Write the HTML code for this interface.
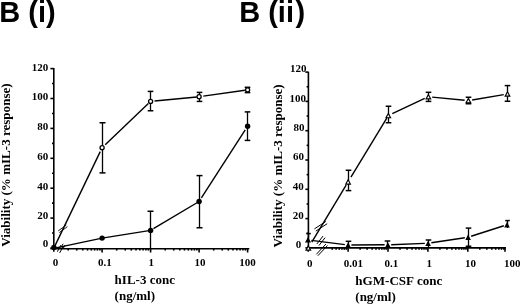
<!DOCTYPE html>
<html><head><meta charset="utf-8"><style>
html,body{margin:0;padding:0;background:#fff;}
svg{display:block;will-change:transform;}
</style></head><body>
<svg width="520" height="304" viewBox="0 0 520 304">
<text x="-0.75" y="21.50" font-size="29" text-anchor="start" font-family="Liberation Sans" font-weight="bold" >B (i)</text>
<text x="239.20" y="21.50" font-size="29" text-anchor="start" font-family="Liberation Sans" font-weight="bold" >B (ii<tspan dx="1.4">)</tspan></text>
<g stroke="#000" stroke-linecap="butt">
<line x1="53.60" y1="248.60" x2="100.24" y2="151.58" stroke-width="1.4"/>
<line x1="105.21" y1="144.73" x2="148.36" y2="103.54" stroke-width="1.4"/>
<line x1="154.58" y1="101.02" x2="196.81" y2="96.97" stroke-width="1.4"/>
<line x1="203.26" y1="96.16" x2="244.93" y2="90.28" stroke-width="1.4"/>
<line x1="53.60" y1="248.40" x2="102.10" y2="238.10" stroke-width="1.4"/>
<line x1="102.10" y1="238.10" x2="150.60" y2="230.40" stroke-width="1.4"/>
<line x1="153.43" y1="228.71" x2="199.10" y2="201.50" stroke-width="1.4"/>
<line x1="201.38" y1="197.97" x2="245.22" y2="129.95" stroke-width="1.4"/>
</g>
<g stroke="#000" stroke-linecap="butt">
<line x1="53.80" y1="67.90" x2="53.80" y2="251.70" stroke-width="1.6"/>
<line x1="50.40" y1="248.00" x2="53.80" y2="248.00" stroke-width="1.6"/>
<line x1="50.40" y1="218.10" x2="53.80" y2="218.10" stroke-width="1.6"/>
<line x1="50.40" y1="188.20" x2="53.80" y2="188.20" stroke-width="1.6"/>
<line x1="50.40" y1="158.30" x2="53.80" y2="158.30" stroke-width="1.6"/>
<line x1="50.40" y1="128.40" x2="53.80" y2="128.40" stroke-width="1.6"/>
<line x1="50.40" y1="98.50" x2="53.80" y2="98.50" stroke-width="1.6"/>
<line x1="50.40" y1="68.60" x2="53.80" y2="68.60" stroke-width="1.6"/>
<line x1="52.00" y1="233.05" x2="53.80" y2="233.05" stroke-width="1.6"/>
<line x1="52.00" y1="203.15" x2="53.80" y2="203.15" stroke-width="1.6"/>
<line x1="52.00" y1="173.25" x2="53.80" y2="173.25" stroke-width="1.6"/>
<line x1="52.00" y1="143.35" x2="53.80" y2="143.35" stroke-width="1.6"/>
<line x1="52.00" y1="113.45" x2="53.80" y2="113.45" stroke-width="1.6"/>
<line x1="52.00" y1="83.55" x2="53.80" y2="83.55" stroke-width="1.6"/>
<line x1="50.50" y1="248.70" x2="249.30" y2="248.70" stroke-width="1.6"/>
<line x1="102.10" y1="248.70" x2="102.10" y2="252.50" stroke-width="1.6"/>
<line x1="150.60" y1="248.70" x2="150.60" y2="252.50" stroke-width="1.6"/>
<line x1="199.10" y1="248.70" x2="199.10" y2="252.50" stroke-width="1.6"/>
<line x1="247.60" y1="248.70" x2="247.60" y2="252.50" stroke-width="1.6"/>
<line x1="68.20" y1="248.70" x2="68.20" y2="250.60" stroke-width="1.6"/>
<line x1="76.74" y1="248.70" x2="76.74" y2="250.60" stroke-width="1.6"/>
<line x1="82.80" y1="248.70" x2="82.80" y2="250.60" stroke-width="1.6"/>
<line x1="87.50" y1="248.70" x2="87.50" y2="250.60" stroke-width="1.6"/>
<line x1="91.34" y1="248.70" x2="91.34" y2="250.60" stroke-width="1.6"/>
<line x1="94.59" y1="248.70" x2="94.59" y2="250.60" stroke-width="1.6"/>
<line x1="97.40" y1="248.70" x2="97.40" y2="250.60" stroke-width="1.6"/>
<line x1="99.88" y1="248.70" x2="99.88" y2="250.60" stroke-width="1.6"/>
<line x1="116.70" y1="248.70" x2="116.70" y2="250.60" stroke-width="1.6"/>
<line x1="125.24" y1="248.70" x2="125.24" y2="250.60" stroke-width="1.6"/>
<line x1="131.30" y1="248.70" x2="131.30" y2="250.60" stroke-width="1.6"/>
<line x1="136.00" y1="248.70" x2="136.00" y2="250.60" stroke-width="1.6"/>
<line x1="139.84" y1="248.70" x2="139.84" y2="250.60" stroke-width="1.6"/>
<line x1="143.09" y1="248.70" x2="143.09" y2="250.60" stroke-width="1.6"/>
<line x1="145.90" y1="248.70" x2="145.90" y2="250.60" stroke-width="1.6"/>
<line x1="148.38" y1="248.70" x2="148.38" y2="250.60" stroke-width="1.6"/>
<line x1="165.20" y1="248.70" x2="165.20" y2="250.60" stroke-width="1.6"/>
<line x1="173.74" y1="248.70" x2="173.74" y2="250.60" stroke-width="1.6"/>
<line x1="179.80" y1="248.70" x2="179.80" y2="250.60" stroke-width="1.6"/>
<line x1="184.50" y1="248.70" x2="184.50" y2="250.60" stroke-width="1.6"/>
<line x1="188.34" y1="248.70" x2="188.34" y2="250.60" stroke-width="1.6"/>
<line x1="191.59" y1="248.70" x2="191.59" y2="250.60" stroke-width="1.6"/>
<line x1="194.40" y1="248.70" x2="194.40" y2="250.60" stroke-width="1.6"/>
<line x1="196.88" y1="248.70" x2="196.88" y2="250.60" stroke-width="1.6"/>
<line x1="213.70" y1="248.70" x2="213.70" y2="250.60" stroke-width="1.6"/>
<line x1="222.24" y1="248.70" x2="222.24" y2="250.60" stroke-width="1.6"/>
<line x1="228.30" y1="248.70" x2="228.30" y2="250.60" stroke-width="1.6"/>
<line x1="233.00" y1="248.70" x2="233.00" y2="250.60" stroke-width="1.6"/>
<line x1="236.84" y1="248.70" x2="236.84" y2="250.60" stroke-width="1.6"/>
<line x1="240.09" y1="248.70" x2="240.09" y2="250.60" stroke-width="1.6"/>
<line x1="242.90" y1="248.70" x2="242.90" y2="250.60" stroke-width="1.6"/>
<line x1="245.38" y1="248.70" x2="245.38" y2="250.60" stroke-width="1.6"/>
<line x1="102.50" y1="122.75" x2="102.50" y2="172.90" stroke-width="1.3"/>
<line x1="99.50" y1="122.75" x2="105.50" y2="122.75" stroke-width="1.5"/>
<line x1="99.50" y1="172.90" x2="105.50" y2="172.90" stroke-width="1.5"/>
<line x1="150.50" y1="91.40" x2="150.50" y2="110.75" stroke-width="1.3"/>
<line x1="147.70" y1="91.40" x2="153.30" y2="91.40" stroke-width="1.5"/>
<line x1="147.70" y1="110.75" x2="153.30" y2="110.75" stroke-width="1.5"/>
<line x1="199.50" y1="92.40" x2="199.50" y2="101.40" stroke-width="1.3"/>
<line x1="196.70" y1="92.40" x2="202.30" y2="92.40" stroke-width="1.5"/>
<line x1="196.70" y1="101.40" x2="202.30" y2="101.40" stroke-width="1.5"/>
<line x1="247.50" y1="87.30" x2="247.50" y2="92.60" stroke-width="1.3"/>
<line x1="244.70" y1="87.30" x2="250.30" y2="87.30" stroke-width="1.5"/>
<line x1="244.70" y1="92.60" x2="250.30" y2="92.60" stroke-width="1.5"/>
<line x1="150.50" y1="211.25" x2="150.50" y2="248.70" stroke-width="1.3"/>
<line x1="147.50" y1="211.25" x2="153.50" y2="211.25" stroke-width="1.5"/>
<line x1="199.50" y1="175.60" x2="199.50" y2="227.75" stroke-width="1.3"/>
<line x1="196.50" y1="175.60" x2="202.50" y2="175.60" stroke-width="1.5"/>
<line x1="196.50" y1="227.75" x2="202.50" y2="227.75" stroke-width="1.5"/>
<line x1="247.50" y1="111.90" x2="247.50" y2="140.40" stroke-width="1.3"/>
<line x1="244.70" y1="111.90" x2="250.30" y2="111.90" stroke-width="1.5"/>
<line x1="244.70" y1="140.40" x2="250.30" y2="140.40" stroke-width="1.5"/>
</g>
<circle cx="102.10" cy="147.70" r="2.0500000000000003" fill="#fff" stroke="#000" stroke-width="1.3"/>
<circle cx="150.60" cy="101.40" r="2.0500000000000003" fill="#fff" stroke="#000" stroke-width="1.3"/>
<circle cx="199.10" cy="96.75" r="2.0500000000000003" fill="#fff" stroke="#000" stroke-width="1.3"/>
<circle cx="247.60" cy="89.90" r="2.0500000000000003" fill="#fff" stroke="#000" stroke-width="1.3"/>
<circle cx="102.10" cy="238.10" r="2.7" fill="#000" stroke="none"/>
<circle cx="150.60" cy="230.40" r="2.7" fill="#000" stroke="none"/>
<circle cx="199.10" cy="201.50" r="2.7" fill="#000" stroke="none"/>
<circle cx="247.60" cy="126.25" r="2.7" fill="#000" stroke="none"/>
<circle cx="53.90" cy="247.40" r="2.7" fill="#000" stroke="none"/>
<g stroke="#000">
<line x1="57.39" y1="251.70" x2="60.91" y2="245.08" stroke-width="1.0"/>
<line x1="59.69" y1="252.92" x2="63.21" y2="246.30" stroke-width="1.0"/>
<line x1="58.17" y1="230.93" x2="66.26" y2="225.05" stroke-width="0.9"/>
<line x1="59.34" y1="232.55" x2="67.43" y2="226.67" stroke-width="0.9"/>
<line x1="60.84" y1="247.65" x2="63.09" y2="243.75" stroke-width="1.0"/>
<line x1="62.91" y1="248.85" x2="65.16" y2="244.95" stroke-width="1.0"/>
</g>
<text x="48.20" y="71.00" font-size="11" text-anchor="end" font-family="Liberation Serif" font-weight="bold" >120</text>
<text x="48.20" y="99.50" font-size="11" text-anchor="end" font-family="Liberation Serif" font-weight="bold" >100</text>
<text x="48.20" y="129.60" font-size="11" text-anchor="end" font-family="Liberation Serif" font-weight="bold" >80</text>
<text x="48.20" y="159.50" font-size="11" text-anchor="end" font-family="Liberation Serif" font-weight="bold" >60</text>
<text x="48.20" y="189.50" font-size="11" text-anchor="end" font-family="Liberation Serif" font-weight="bold" >40</text>
<text x="48.20" y="218.70" font-size="11" text-anchor="end" font-family="Liberation Serif" font-weight="bold" >20</text>
<text x="48.20" y="247.30" font-size="11" text-anchor="end" font-family="Liberation Serif" font-weight="bold" >0</text>
<text x="52.70" y="265.80" font-size="11" text-anchor="start" font-family="Liberation Serif" font-weight="bold" >0</text>
<text x="97.90" y="265.80" font-size="11" text-anchor="start" font-family="Liberation Serif" font-weight="bold" >0.1</text>
<text x="148.40" y="265.80" font-size="11" text-anchor="start" font-family="Liberation Serif" font-weight="bold" >1</text>
<text x="194.40" y="265.80" font-size="11" text-anchor="start" font-family="Liberation Serif" font-weight="bold" >10</text>
<text x="239.20" y="265.80" font-size="11" text-anchor="start" font-family="Liberation Serif" font-weight="bold" >100</text>
<text x="114.60" y="284.20" font-size="13" text-anchor="start" font-family="Liberation Serif" font-weight="bold" >hIL-3 conc</text>
<text x="114.60" y="299.80" font-size="13" text-anchor="start" font-family="Liberation Serif" font-weight="bold" >(ng/ml)</text>
<text transform="translate(9.8,246.8) rotate(-90)" font-size="12.6" textLength="163.4" lengthAdjust="spacingAndGlyphs" font-family="Liberation Serif" font-weight="bold">Viability (% mIL-3 response)</text>
<g stroke="#000" stroke-linecap="butt">
<line x1="311.81" y1="242.17" x2="346.14" y2="185.16" stroke-width="1.4"/>
<line x1="350.95" y1="177.20" x2="386.80" y2="118.08" stroke-width="1.4"/>
<line x1="392.28" y1="113.73" x2="424.69" y2="98.49" stroke-width="1.4"/>
<line x1="432.18" y1="97.11" x2="464.62" y2="100.24" stroke-width="1.4"/>
<line x1="472.15" y1="99.97" x2="503.75" y2="94.63" stroke-width="1.4"/>
<line x1="311.37" y1="240.42" x2="344.83" y2="244.59" stroke-width="1.4"/>
<line x1="351.40" y1="244.98" x2="384.60" y2="244.82" stroke-width="1.4"/>
<line x1="391.20" y1="244.68" x2="424.80" y2="243.42" stroke-width="1.4"/>
<line x1="431.36" y1="242.81" x2="464.84" y2="237.74" stroke-width="1.4"/>
<line x1="471.15" y1="236.27" x2="503.86" y2="225.76" stroke-width="1.4"/>
</g>
<g stroke="#000" stroke-linecap="butt">
<line x1="308.40" y1="71.80" x2="308.40" y2="248.60" stroke-width="1.6"/>
<line x1="305.40" y1="247.90" x2="308.40" y2="247.90" stroke-width="1.6"/>
<line x1="305.40" y1="218.60" x2="308.40" y2="218.60" stroke-width="1.6"/>
<line x1="305.40" y1="189.30" x2="308.40" y2="189.30" stroke-width="1.6"/>
<line x1="305.40" y1="160.00" x2="308.40" y2="160.00" stroke-width="1.6"/>
<line x1="305.40" y1="130.70" x2="308.40" y2="130.70" stroke-width="1.6"/>
<line x1="305.40" y1="101.40" x2="308.40" y2="101.40" stroke-width="1.6"/>
<line x1="305.40" y1="72.10" x2="308.40" y2="72.10" stroke-width="1.6"/>
<line x1="306.60" y1="233.25" x2="308.40" y2="233.25" stroke-width="1.6"/>
<line x1="306.60" y1="203.95" x2="308.40" y2="203.95" stroke-width="1.6"/>
<line x1="306.60" y1="174.65" x2="308.40" y2="174.65" stroke-width="1.6"/>
<line x1="306.60" y1="145.35" x2="308.40" y2="145.35" stroke-width="1.6"/>
<line x1="306.60" y1="116.05" x2="308.40" y2="116.05" stroke-width="1.6"/>
<line x1="306.60" y1="86.75" x2="308.40" y2="86.75" stroke-width="1.6"/>
<line x1="308.40" y1="247.90" x2="506.00" y2="247.90" stroke-width="1.6"/>
<line x1="348.10" y1="247.90" x2="348.10" y2="251.70" stroke-width="1.6"/>
<line x1="388.00" y1="247.90" x2="388.00" y2="251.70" stroke-width="1.6"/>
<line x1="427.90" y1="247.90" x2="427.90" y2="251.70" stroke-width="1.6"/>
<line x1="467.80" y1="247.90" x2="467.80" y2="251.70" stroke-width="1.6"/>
<line x1="505.00" y1="247.90" x2="505.00" y2="251.70" stroke-width="1.6"/>
<line x1="308.20" y1="247.90" x2="308.20" y2="251.70" stroke-width="1.6"/>
<line x1="332.22" y1="247.90" x2="332.22" y2="249.80" stroke-width="1.6"/>
<line x1="336.09" y1="247.90" x2="336.09" y2="249.80" stroke-width="1.6"/>
<line x1="339.25" y1="247.90" x2="339.25" y2="249.80" stroke-width="1.6"/>
<line x1="341.92" y1="247.90" x2="341.92" y2="249.80" stroke-width="1.6"/>
<line x1="344.23" y1="247.90" x2="344.23" y2="249.80" stroke-width="1.6"/>
<line x1="346.27" y1="247.90" x2="346.27" y2="249.80" stroke-width="1.6"/>
<line x1="360.11" y1="247.90" x2="360.11" y2="249.80" stroke-width="1.6"/>
<line x1="367.14" y1="247.90" x2="367.14" y2="249.80" stroke-width="1.6"/>
<line x1="372.12" y1="247.90" x2="372.12" y2="249.80" stroke-width="1.6"/>
<line x1="375.99" y1="247.90" x2="375.99" y2="249.80" stroke-width="1.6"/>
<line x1="379.15" y1="247.90" x2="379.15" y2="249.80" stroke-width="1.6"/>
<line x1="381.82" y1="247.90" x2="381.82" y2="249.80" stroke-width="1.6"/>
<line x1="384.13" y1="247.90" x2="384.13" y2="249.80" stroke-width="1.6"/>
<line x1="386.17" y1="247.90" x2="386.17" y2="249.80" stroke-width="1.6"/>
<line x1="400.01" y1="247.90" x2="400.01" y2="249.80" stroke-width="1.6"/>
<line x1="407.04" y1="247.90" x2="407.04" y2="249.80" stroke-width="1.6"/>
<line x1="412.02" y1="247.90" x2="412.02" y2="249.80" stroke-width="1.6"/>
<line x1="415.89" y1="247.90" x2="415.89" y2="249.80" stroke-width="1.6"/>
<line x1="419.05" y1="247.90" x2="419.05" y2="249.80" stroke-width="1.6"/>
<line x1="421.72" y1="247.90" x2="421.72" y2="249.80" stroke-width="1.6"/>
<line x1="424.03" y1="247.90" x2="424.03" y2="249.80" stroke-width="1.6"/>
<line x1="426.07" y1="247.90" x2="426.07" y2="249.80" stroke-width="1.6"/>
<line x1="439.91" y1="247.90" x2="439.91" y2="249.80" stroke-width="1.6"/>
<line x1="446.94" y1="247.90" x2="446.94" y2="249.80" stroke-width="1.6"/>
<line x1="451.92" y1="247.90" x2="451.92" y2="249.80" stroke-width="1.6"/>
<line x1="455.79" y1="247.90" x2="455.79" y2="249.80" stroke-width="1.6"/>
<line x1="458.95" y1="247.90" x2="458.95" y2="249.80" stroke-width="1.6"/>
<line x1="461.62" y1="247.90" x2="461.62" y2="249.80" stroke-width="1.6"/>
<line x1="463.93" y1="247.90" x2="463.93" y2="249.80" stroke-width="1.6"/>
<line x1="465.97" y1="247.90" x2="465.97" y2="249.80" stroke-width="1.6"/>
<line x1="479.81" y1="247.90" x2="479.81" y2="249.80" stroke-width="1.6"/>
<line x1="486.84" y1="247.90" x2="486.84" y2="249.80" stroke-width="1.6"/>
<line x1="491.82" y1="247.90" x2="491.82" y2="249.80" stroke-width="1.6"/>
<line x1="495.69" y1="247.90" x2="495.69" y2="249.80" stroke-width="1.6"/>
<line x1="498.85" y1="247.90" x2="498.85" y2="249.80" stroke-width="1.6"/>
<line x1="501.52" y1="247.90" x2="501.52" y2="249.80" stroke-width="1.6"/>
<line x1="503.83" y1="247.90" x2="503.83" y2="249.80" stroke-width="1.6"/>
<line x1="348.50" y1="170.25" x2="348.50" y2="190.60" stroke-width="1.3"/>
<line x1="345.70" y1="170.25" x2="351.30" y2="170.25" stroke-width="1.5"/>
<line x1="345.70" y1="190.60" x2="351.30" y2="190.60" stroke-width="1.5"/>
<line x1="388.50" y1="106.25" x2="388.50" y2="122.75" stroke-width="1.3"/>
<line x1="385.70" y1="106.25" x2="391.30" y2="106.25" stroke-width="1.5"/>
<line x1="385.70" y1="122.75" x2="391.30" y2="122.75" stroke-width="1.5"/>
<line x1="428.50" y1="92.30" x2="428.50" y2="101.40" stroke-width="1.3"/>
<line x1="425.70" y1="92.30" x2="431.30" y2="92.30" stroke-width="1.5"/>
<line x1="425.70" y1="101.40" x2="431.30" y2="101.40" stroke-width="1.5"/>
<line x1="468.50" y1="97.25" x2="468.50" y2="103.75" stroke-width="1.3"/>
<line x1="465.70" y1="97.25" x2="471.30" y2="97.25" stroke-width="1.5"/>
<line x1="465.70" y1="103.75" x2="471.30" y2="103.75" stroke-width="1.5"/>
<line x1="507.50" y1="85.60" x2="507.50" y2="101.25" stroke-width="1.3"/>
<line x1="504.70" y1="85.60" x2="510.30" y2="85.60" stroke-width="1.5"/>
<line x1="504.70" y1="101.25" x2="510.30" y2="101.25" stroke-width="1.5"/>
<line x1="308.50" y1="233.60" x2="308.50" y2="241.00" stroke-width="1.3"/>
<line x1="306.20" y1="233.60" x2="310.80" y2="233.60" stroke-width="1.5"/>
<line x1="348.50" y1="241.30" x2="348.50" y2="247.50" stroke-width="1.3"/>
<line x1="345.70" y1="241.30" x2="351.30" y2="241.30" stroke-width="1.5"/>
<line x1="387.50" y1="241.00" x2="387.50" y2="247.50" stroke-width="1.3"/>
<line x1="384.70" y1="241.00" x2="390.30" y2="241.00" stroke-width="1.5"/>
<line x1="428.50" y1="240.00" x2="428.50" y2="247.00" stroke-width="1.3"/>
<line x1="425.70" y1="240.00" x2="431.30" y2="240.00" stroke-width="1.5"/>
<line x1="468.50" y1="228.10" x2="468.50" y2="246.25" stroke-width="1.3"/>
<line x1="465.70" y1="228.10" x2="471.30" y2="228.10" stroke-width="1.5"/>
<line x1="465.70" y1="246.25" x2="471.30" y2="246.25" stroke-width="1.5"/>
<line x1="507.50" y1="220.60" x2="507.50" y2="228.00" stroke-width="1.3"/>
<line x1="505.20" y1="220.60" x2="509.80" y2="220.60" stroke-width="1.5"/>
</g>
<polygon points="308.30,245.85 306.00,250.15 310.60,250.15" fill="#fff" stroke="#000" stroke-width="1.15" stroke-linejoin="miter"/>
<polygon points="348.10,179.75 345.80,184.05 350.40,184.05" fill="#fff" stroke="#000" stroke-width="1.15" stroke-linejoin="miter"/>
<polygon points="388.30,113.45 386.00,117.75 390.60,117.75" fill="#fff" stroke="#000" stroke-width="1.15" stroke-linejoin="miter"/>
<polygon points="428.40,94.60 426.10,98.90 430.70,98.90" fill="#fff" stroke="#000" stroke-width="1.15" stroke-linejoin="miter"/>
<polygon points="468.40,98.45 466.10,102.75 470.70,102.75" fill="#fff" stroke="#000" stroke-width="1.15" stroke-linejoin="miter"/>
<polygon points="507.50,91.85 505.20,96.15 509.80,96.15" fill="#fff" stroke="#000" stroke-width="1.15" stroke-linejoin="miter"/>
<polygon points="348.10,242.35 345.30,247.65 350.90,247.65" fill="#000" stroke="none"/>
<polygon points="387.90,242.15 385.10,247.45 390.70,247.45" fill="#000" stroke="none"/>
<polygon points="428.10,240.65 425.30,245.95 430.90,245.95" fill="#000" stroke="none"/>
<polygon points="468.10,234.60 465.30,239.90 470.90,239.90" fill="#000" stroke="none"/>
<polygon points="507.00,222.10 504.20,227.40 509.80,227.40" fill="#000" stroke="none"/>
<polygon points="308.00,237.00 305.00,242.60 311.00,242.60" fill="#000" stroke="none"/>
<g stroke="#000">
<line x1="316.36" y1="254.30" x2="325.91" y2="244.06" stroke-width="1.0"/>
<line x1="317.89" y1="255.74" x2="327.44" y2="245.50" stroke-width="1.0"/>
<line x1="314.43" y1="228.89" x2="325.75" y2="221.53" stroke-width="1.0"/>
<line x1="315.85" y1="231.07" x2="327.17" y2="223.71" stroke-width="1.0"/>
<line x1="316.90" y1="243.94" x2="323.05" y2="236.06" stroke-width="1.0"/>
<line x1="318.95" y1="245.54" x2="325.10" y2="237.66" stroke-width="1.0"/>
</g>
<text x="306.40" y="72.40" font-size="11" text-anchor="end" font-family="Liberation Serif" font-weight="bold" >120</text>
<text x="305.90" y="101.50" font-size="11" text-anchor="end" font-family="Liberation Serif" font-weight="bold" >100</text>
<text x="304.40" y="130.95" font-size="11" text-anchor="end" font-family="Liberation Serif" font-weight="bold" >80</text>
<text x="304.10" y="160.40" font-size="11" text-anchor="end" font-family="Liberation Serif" font-weight="bold" >60</text>
<text x="303.80" y="189.50" font-size="11" text-anchor="end" font-family="Liberation Serif" font-weight="bold" >40</text>
<text x="303.80" y="218.95" font-size="11" text-anchor="end" font-family="Liberation Serif" font-weight="bold" >20</text>
<text x="301.20" y="247.60" font-size="11" text-anchor="end" font-family="Liberation Serif" font-weight="bold" >0</text>
<text x="306.90" y="266.80" font-size="11" text-anchor="start" font-family="Liberation Serif" font-weight="bold" >0</text>
<text x="343.80" y="266.80" font-size="11" text-anchor="start" font-family="Liberation Serif" font-weight="bold" >0.01</text>
<text x="384.60" y="266.80" font-size="11" text-anchor="start" font-family="Liberation Serif" font-weight="bold" >0.1</text>
<text x="426.60" y="266.80" font-size="11" text-anchor="start" font-family="Liberation Serif" font-weight="bold" >1</text>
<text x="465.00" y="266.80" font-size="11" text-anchor="start" font-family="Liberation Serif" font-weight="bold" >10</text>
<text x="503.90" y="266.80" font-size="11" text-anchor="start" font-family="Liberation Serif" font-weight="bold" >100</text>
<text x="355.30" y="284.90" font-size="13" text-anchor="start" font-family="Liberation Serif" font-weight="bold" textLength="87" lengthAdjust="spacingAndGlyphs">hGM-CSF conc</text>
<text x="355.30" y="300.80" font-size="13" text-anchor="start" font-family="Liberation Serif" font-weight="bold" >(ng/ml)</text>
<text transform="translate(282.4,247.4) rotate(-90)" font-size="12.6" textLength="163.0" lengthAdjust="spacingAndGlyphs" font-family="Liberation Serif" font-weight="bold">Viability (% mIL-3 response)</text>
</svg>
</body></html>
